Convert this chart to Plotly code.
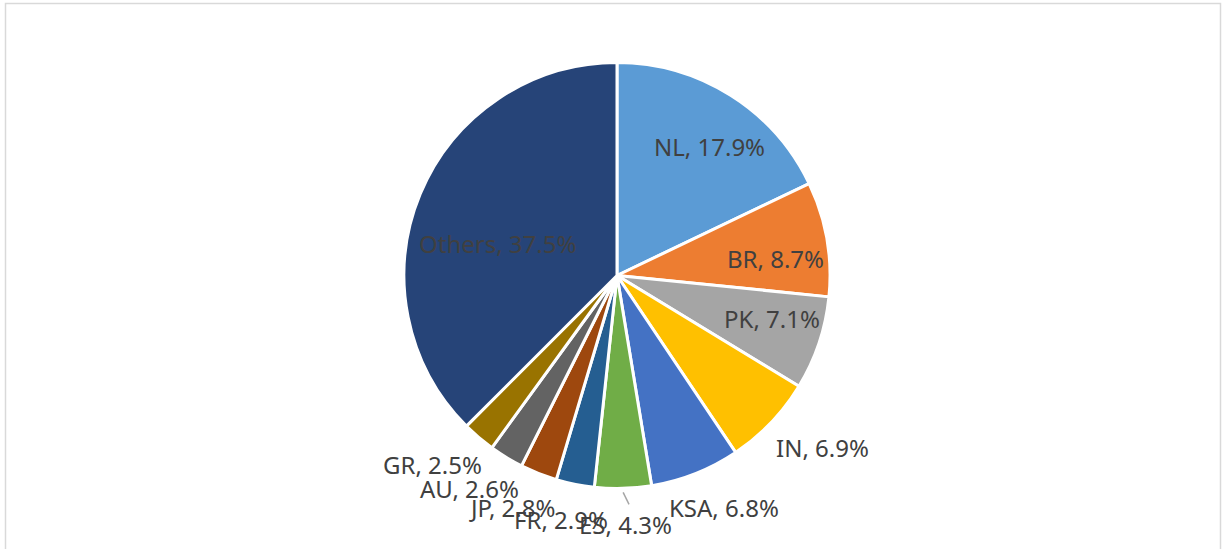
import math
import plotly.graph_objects as go

labels = ["NL", "BR", "PK", "IN", "KSA", "ES", "FR", "JP", "AU", "GR", "Others"]
values = [17.9, 8.7, 7.1, 6.9, 6.8, 4.3, 2.9, 2.8, 2.6, 2.5, 37.5]
colors = ["#5B9BD5", "#ED7D31", "#A5A5A5", "#FFC000", "#4472C4", "#70AD47",
          "#255E91", "#9E480E", "#636363", "#997300", "#264478"]

# label placement style: "in" = inside at fraction of radius, "out" = outside end
label_mode = ["in", "in", "in", "out", "out", "out", "out", "out", "out", "out", "in"]
label_rfrac = [0.746, 0.748, 0.756, None, None, None, None, None, None, None, 0.58]
label_dtheta = [3.6, 3.8, -3.2, 0, 0, 0, 0, 0, 0, 0, -7.5]
leader = ["ES"]

W, H = 1226, 549
cx, cy, R = 617, 275.5, 213
GAP = 22
FONT = "Noto Sans"
FS = 24
CHAR_W = 12.3
LINE_H = 28

fig = go.Figure(go.Pie(
    labels=labels,
    values=values,
    sort=False,
    direction="clockwise",
    rotation=0,
    marker=dict(colors=colors, line=dict(color="white", width=3)),
    textinfo="none",
    hoverinfo="label+percent",
    showlegend=False,
    domain=dict(x=[(cx - R) / W, (cx + R) / W], y=[1 - (cy + R) / H, 1 - (cy - R) / H]),
))

total = sum(values)
annotations = []
shapes = [dict(type="rect", xref="paper", yref="paper",
               x0=5.5 / W, x1=1220.5 / W, y0=-0.05, y1=1 - 3.5 / H,
               line=dict(color="#D9D9D9", width=1.5), layer="below")]

cum = 0.0
for lab, v, mode, rf, dth in zip(labels, values, label_mode, label_rfrac, label_dtheta):
    mid = (cum + v / 2) / total * 360.0
    cum += v
    text = f"{lab}, {v:.1f}%"
    th = math.radians(mid + dth)
    s, c = math.sin(th), math.cos(th)
    if mode == "in":
        px = cx + rf * R * s
        py = cy - rf * R * c
    else:
        w = len(text) * CHAR_W
        px = cx + (R + GAP) * s + (w / 2) * s
        py = cy - (R + GAP) * c - (LINE_H / 2) * c
    annotations.append(dict(
        x=px / W, y=1 - py / H, xref="paper", yref="paper",
        text=text, showarrow=False, xanchor="center", yanchor="middle",
        font=dict(family=FONT, size=FS, color="#404040"),
    ))
    if lab in leader:
        x0 = cx + (R + 4) * s
        y0 = cy - (R + 4) * c
        x1 = px + 4
        y1 = py - LINE_H / 2 - 6
        shapes.append(dict(type="line", xref="paper", yref="paper",
                           x0=x0 / W, y0=1 - y0 / H, x1=x1 / W, y1=1 - y1 / H,
                           line=dict(color="#A6A6A6", width=1.5)))

fig.update_layout(
    width=W, height=H,
    margin=dict(l=0, r=0, t=0, b=0),
    paper_bgcolor="white",
    annotations=annotations,
    shapes=shapes,
)

fig.write_html("out.html", config={"displayModeBar": False},
               post_script="document.body.style.margin='0';")
